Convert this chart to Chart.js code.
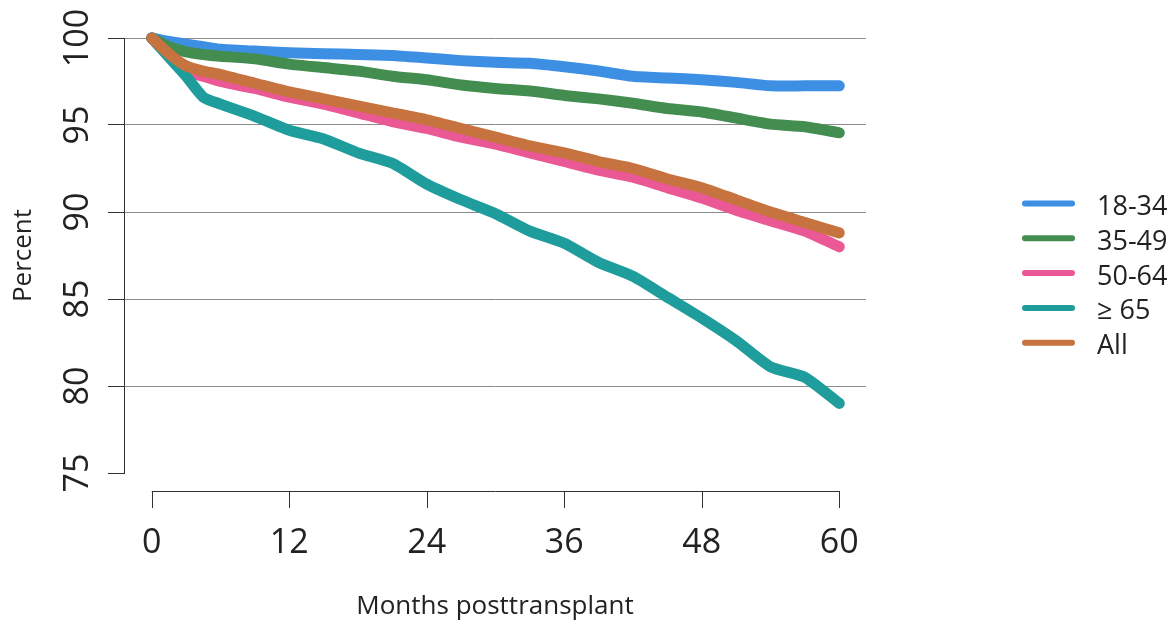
<!DOCTYPE html>
<html>
<head>
<meta charset="utf-8">
<script src="https://cdn.jsdelivr.net/npm/chart.js@4.4.1/dist/chart.umd.min.js"></script>
<style>
    html, body { margin: 0; padding: 0; background: #fff; }
    #wrap { width: 1173px; height: 628px; }
</style>
</head>
<body>
<div id="wrap"><canvas id="survivalChart" width="1173" height="628"></canvas></div>
<script>
// Months posttransplant (x values)
const months = [0, 1.5, 3, 4.5, 6, 9, 12, 15, 18, 21, 24, 27, 30, 33, 36, 39, 42, 45, 48, 51, 54, 57, 60];

// Percent surviving
const age18to34 = [100, 99.8, 99.65, 99.5, 99.35, 99.25, 99.15, 99.1, 99.05, 99.0, 98.85, 98.7, 98.6, 98.55, 98.35, 98.1, 97.8, 97.7, 97.6, 97.45, 97.25, 97.25, 97.25];
const age35to49 = [100, 99.5, 99.2, 99.05, 98.95, 98.8, 98.5, 98.3, 98.1, 97.8, 97.6, 97.3, 97.1, 96.95, 96.7, 96.5, 96.25, 95.95, 95.75, 95.4, 95.05, 94.9, 94.55];
const age50to64 = [100, 99.0, 98.1, 97.8, 97.5, 97.1, 96.6, 96.2, 95.7, 95.2, 94.8, 94.3, 93.9, 93.4, 92.9, 92.4, 92.0, 91.4, 90.8, 90.1, 89.5, 88.9, 88.0];
const age65plus = [100, 98.9, 97.8, 96.6, 96.2, 95.5, 94.7, 94.2, 93.4, 92.8, 91.6, 90.7, 89.9, 88.9, 88.2, 87.1, 86.3, 85.1, 83.9, 82.6, 81.1, 80.5, 79.0];
const allAges = [100, 99.1, 98.4, 98.1, 97.9, 97.4, 96.9, 96.5, 96.1, 95.7, 95.3, 94.8, 94.3, 93.8, 93.4, 92.9, 92.5, 91.9, 91.4, 90.7, 90.0, 89.4, 88.8];

const seriesLabels = ['18-34', '35-49', '50-64', '\u2265 65', 'All'];
const seriesValues = [age18to34, age35to49, age50to64, age65plus, allAges];
const seriesColors = ['#3d8fe3', '#428d4f', '#ea5895', '#1f9c9c', '#c7733f'];
const drawOrder = [4, 3, 2, 1, 0]; // "All" ends up on top

const xTicks = [0, 12, 24, 36, 48, 60];
const yTicks = [75, 80, 85, 90, 95, 100];

const FONT = "'Open Sans', sans-serif";
const TEXT = '#222';

Chart.defaults.font.family = FONT;
Chart.defaults.color = TEXT;

// detached x axis, rotated y labels and the legend
const axisDecor = {
    id: 'axisDecor',
    afterDraw(chart) {
        const ctx = chart.ctx;
        const x = chart.scales.x;
        const y = chart.scales.y;
        ctx.save();

        const axisY = y.bottom + 18;
        ctx.strokeStyle = '#333';
        ctx.lineWidth = 1;
        ctx.beginPath();
        ctx.moveTo(x.getPixelForValue(xTicks[0]), axisY + 0.5);
        ctx.lineTo(x.getPixelForValue(xTicks[xTicks.length - 1]), axisY + 0.5);
        xTicks.forEach(t => {
            const px = Math.round(x.getPixelForValue(t)) + 0.5;
            ctx.moveTo(px, axisY);
            ctx.lineTo(px, axisY + 17);
        });
        ctx.stroke();

        ctx.fillStyle = TEXT;
        ctx.font = '34px ' + FONT;
        ctx.textAlign = 'center';
        ctx.textBaseline = 'alphabetic';
        yTicks.forEach(t => {
            ctx.save();
            ctx.translate(88, y.getPixelForValue(t));
            ctx.rotate(-Math.PI / 2);
            ctx.fillText(String(t), 0, 0);
            ctx.restore();
        });

        // legend
        ctx.font = '27px ' + FONT;
        ctx.textAlign = 'left';
        chart.data.datasets.forEach((ds, i) => {
            const rowY = 203.5 + i * 34.8;
            ctx.strokeStyle = ds.borderColor;
            ctx.lineWidth = 6;
            ctx.lineCap = 'round';
            ctx.beginPath();
            ctx.moveTo(1025, rowY);
            ctx.lineTo(1072, rowY);
            ctx.stroke();
            ctx.fillStyle = TEXT;
            ctx.fillText(ds.label, 1097, rowY + 11.5);
        });

        ctx.restore();
    }
};

const chart = new Chart(document.getElementById('survivalChart').getContext('2d'), {
    type: 'line',
    data: {
        datasets: seriesLabels.map((label, i) => ({
            label: label,
            data: months.map((m, j) => ({ x: m, y: seriesValues[i][j] })),
            borderColor: seriesColors[i],
            borderWidth: 11,
            borderCapStyle: 'round',
            borderJoinStyle: 'round',
            pointRadius: 0,
            tension: 0.2,
            fill: false,
            clip: false,
            order: drawOrder[i]
        }))
    },
    options: {
        responsive: false,
        animation: false,
        devicePixelRatio: 1,
        layout: { padding: { top: 38, right: 307, bottom: 0, left: 0 } },
        plugins: {
            legend: { display: false },
            tooltip: { enabled: false }
        },
        scales: {
            x: {
                type: 'linear',
                min: -2.42,
                max: 62.33,
                afterBuildTicks: scale => { scale.ticks = xTicks.map(v => ({ value: v })); },
                afterFit: scale => { scale.height = 155; },
                grid: { display: false, drawTicks: false },
                border: { display: false },
                ticks: { font: { size: 34 }, color: TEXT, padding: 50, maxRotation: 0 },
                title: {
                    display: true,
                    text: 'Months posttransplant',
                    font: { size: 26 },
                    color: TEXT,
                    padding: { top: 0, bottom: 6 }
                }
            },
            y: {
                min: 75,
                max: 100,
                afterBuildTicks: scale => { scale.ticks = yTicks.map(v => ({ value: v })); },
                afterFit: scale => { scale.width = 124; },
                grid: {
                    color: c => (c.tick && c.tick.value === 75) ? 'rgba(0,0,0,0)' : '#8c8c8c',
                    tickColor: '#333',
                    tickLength: 16,
                    lineWidth: 1
                },
                border: { display: true, color: '#333', width: 1 },
                ticks: { display: false },
                title: {
                    display: true,
                    text: 'Percent',
                    font: { size: 26 },
                    color: TEXT,
                    padding: { top: 8, bottom: 0 }
                }
            }
        }
    },
    plugins: [axisDecor]
});
</script>
</body>
</html>
